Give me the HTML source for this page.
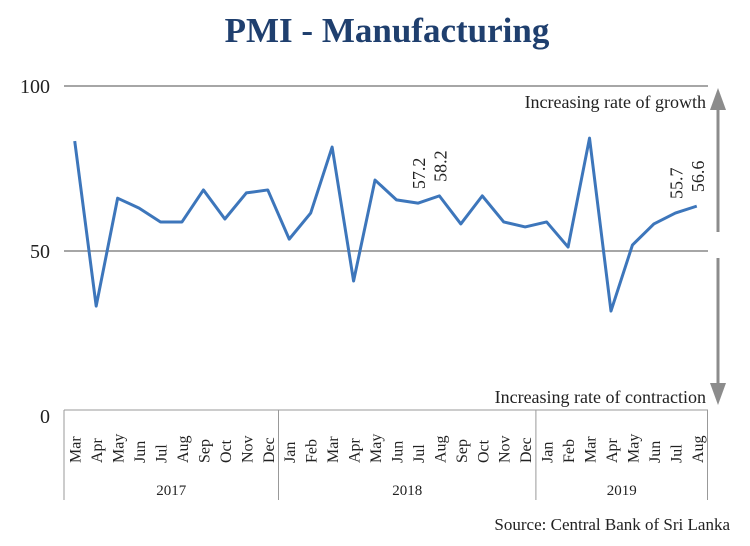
<!DOCTYPE html>
<html><head><meta charset="utf-8"><style>
body{margin:0;background:#fff;}
svg text{font-family:"Liberation Serif",serif;}
</style></head><body>
<svg width="750" height="541" id="chart">
<text x="387" y="42" text-anchor="middle" font-size="35" font-weight="bold" fill="#1f3f6e">PMI - Manufacturing</text>
<g id="grid"></g>
<g id="xaxis"></g>
<polyline id="line" fill="none" stroke="#3d76bb" stroke-width="3" stroke-linejoin="round"/>
<g id="labels"></g>
<text x="706" y="108" text-anchor="end" font-size="18" fill="#222">Increasing rate of growth</text>
<text x="706" y="403" text-anchor="end" font-size="18" fill="#222">Increasing rate of contraction</text>
<line x1="718" y1="232" x2="718" y2="108" stroke="#8c8c8c" stroke-width="3"/>
<polygon points="710,110 726,110 718,88" fill="#8c8c8c"/>
<line x1="718" y1="258" x2="718" y2="385" stroke="#8c8c8c" stroke-width="3"/>
<polygon points="710,383 726,383 718,405" fill="#8c8c8c"/>
<text x="730" y="530" text-anchor="end" font-size="17" fill="#222">Source: Central Bank of Sri Lanka</text>
</svg>
<script>
const months=["Mar","Apr","May","Jun","Jul","Aug","Sep","Oct","Nov","Dec","Jan","Feb","Mar","Apr","May","Jun","Jul","Aug","Sep","Oct","Nov","Dec","Jan","Feb","Mar","Apr","May","Jun","Jul","Aug"];
const values=[83.3,33.3,66,63,58.8,58.8,68.5,59.7,67.6,68.5,53.6,61.5,81.5,40.9,71.5,65.5,64.5,66.7,58.2,66.7,58.8,57.3,58.8,51.2,84.2,31.8,51.8,58.2,61.5,63.6];
const years=["2017","2018","2019"];
const yearCounts=[10,12,8];
const yTicks=[0,50,100];
const pointLabels=[[16,"57.2"],[17,"58.2"],[28,"55.7"],[29,"56.6"]];
const NS="http://www.w3.org/2000/svg";
const x0=64,bw=21.45;
const xs=i=>x0+bw*(i+0.5);
const ys=v=>416-v*3.3;
function mk(t,a,p){const e=document.createElementNS(NS,t);for(const k in a)e.setAttribute(k,a[k]);p.appendChild(e);return e;}
const grid=document.getElementById('grid');
yTicks.forEach(v=>{
  if(v>0){const l=mk('line',{x1:64,x2:708,y1:ys(v),y2:ys(v),stroke:'#a6a6a6','stroke-width':2},grid);
  
  }
  const t=mk('text',{x:50,y:ys(v)+7,'text-anchor':'end','font-size':20,fill:'#222'},grid);t.textContent=v;
  
  
});
const xa=document.getElementById('xaxis');
mk('line',{x1:64,x2:708,y1:410,y2:410,stroke:'#999','stroke-width':1},xa);
months.forEach((m,i)=>{
  const t=mk('text',{transform:`translate(${xs(i)+6},463) rotate(-90)`,'font-size':16,fill:'#222'},xa);t.textContent=m;
  
  
});
let c=0;
mk('line',{x1:64,x2:64,y1:410,y2:500,stroke:'#999'},xa);
years.forEach((y,k)=>{
  const s=x0+c*bw;c+=yearCounts[k];const e=x0+c*bw;
  mk('line',{x1:e,x2:e,y1:410,y2:500,stroke:'#999'},xa);
  const t=mk('text',{x:(s+e)/2,y:495,'text-anchor':'middle','font-size':15,fill:'#222'},xa);t.textContent=y;
  
  
});
document.getElementById('line').setAttribute('points',values.map((v,i)=>xs(i)+','+ys(v)).join(' '));
const lg=document.getElementById('labels');
pointLabels.forEach(([i,txt])=>{
  const t=mk('text',{transform:`translate(${xs(i)+7},${ys(values[i])-14}) rotate(-90)`,'font-size':18,fill:'#222'},lg);t.textContent=txt;
  
  
});
</script>
</body></html>
